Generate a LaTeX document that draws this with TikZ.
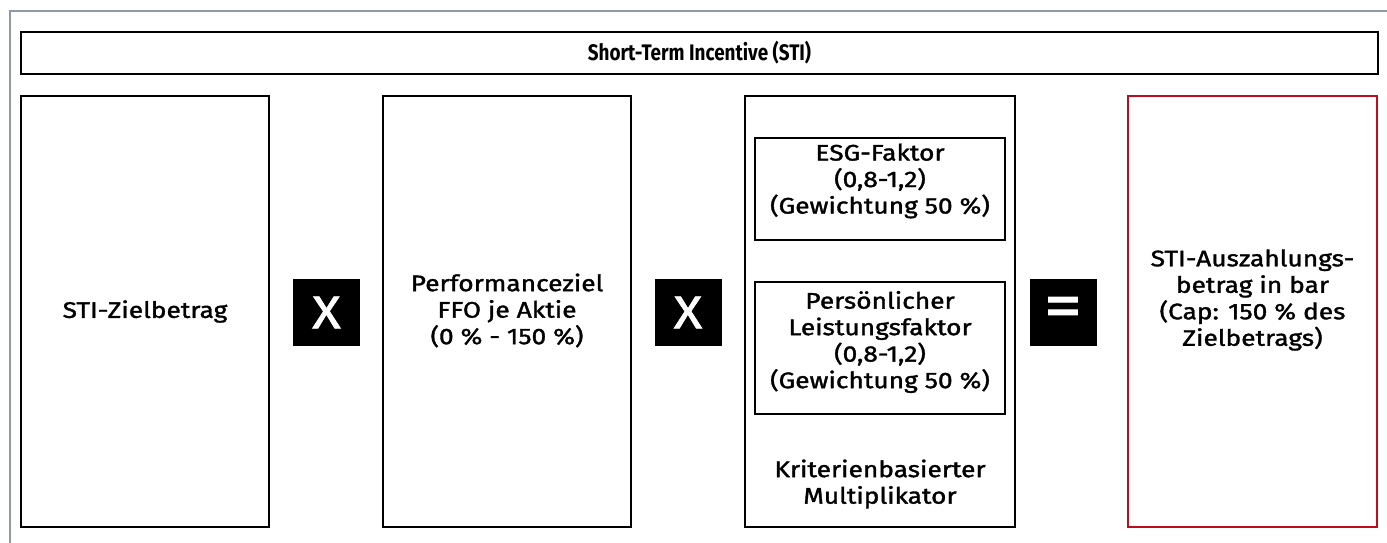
\documentclass[tikz,border=0pt]{standalone}
\usepackage{fontspec}
\setmainfont{Fira Sans}
\newfontfamily\bodyfont{Fira Sans}[FakeStretch=1.17,FakeBold=1.5]
\newfontfamily\titlefont{Fira Sans}[FakeStretch=0.84]
\newfontfamily\opfont{Fira Sans}[FakeStretch=1.15,FakeBold=1.5]
\definecolor{framegray}{HTML}{8E9BA5}
\definecolor{capred}{HTML}{C00A1E}
\begin{document}
\begin{tikzpicture}[x=1pt,y=-1pt,
  box/.style={draw=black,line width=2pt},
  redbox/.style={draw=capred,line width=2pt},
  txt/.style={align=center,font=\bodyfont\fontsize{22.5}{26.5}\selectfont,inner sep=0pt},
  opbox/.style={fill=black,draw=none,minimum width=67pt,minimum height=67pt,inner sep=0pt,text=white,font=\opfont\fontsize{46}{46}\selectfont}
]
\useasboundingbox (0,0) rectangle (1387,543);
\fill[white] (0,0) rectangle (1387,543);
% outer frame (cropped)
\draw[framegray,line width=2pt] (10,560) -- (10,11) -- (1400,11);
% title
\draw[box] (21,32) rectangle (1378,74);
\node[align=center,inner sep=0pt,font=\titlefont\bfseries\fontsize{22.5}{24}\selectfont] (title) at (699.5,53) {Short-Term Incentive (STI)};
% boxes
\draw[box] (21,96) rectangle (269,527);
\node[txt] (b1) at (145,311.5) {STI-Zielbetrag};
\draw[box] (383,96) rectangle (631,527);
\node[txt] (b2) at (507,310.5) {Performanceziel\\FFO je Aktie\\(0 \% - 150 \%)};
\draw[box] (745,96) rectangle (1015,527);
\draw[box] (755,138) rectangle (1005,240);
\node[txt] (esg) at (880,181) {ESG-Faktor\\(0,8-1,2)\\(Gewichtung 50 \%)};
\draw[box] (755,282) rectangle (1005,414);
\node[txt] (pers) at (880,342) {Persönlicher\\Leistungsfaktor\\(0,8-1,2)\\(Gewichtung 50 \%)};
\node[txt] (krit) at (880,484) {Kriterienbasierter\\Multiplikator};
\draw[redbox] (1128,96) rectangle (1377,527);
\node[txt] (b4) at (1252.5,300) {STI-Auszahlungs-\\betrag in bar\\(Cap: 150 \% des\\Zielbetrags)};
% operators
\node[opbox] (op1) at (326.5,312.5) {X};
\node[opbox] (op2) at (688,312.5) {X};
\node[opbox,font=\opfont\fontsize{66}{66}\selectfont] (op3) at (1063,312.5) {=};
\end{tikzpicture}
\end{document}
